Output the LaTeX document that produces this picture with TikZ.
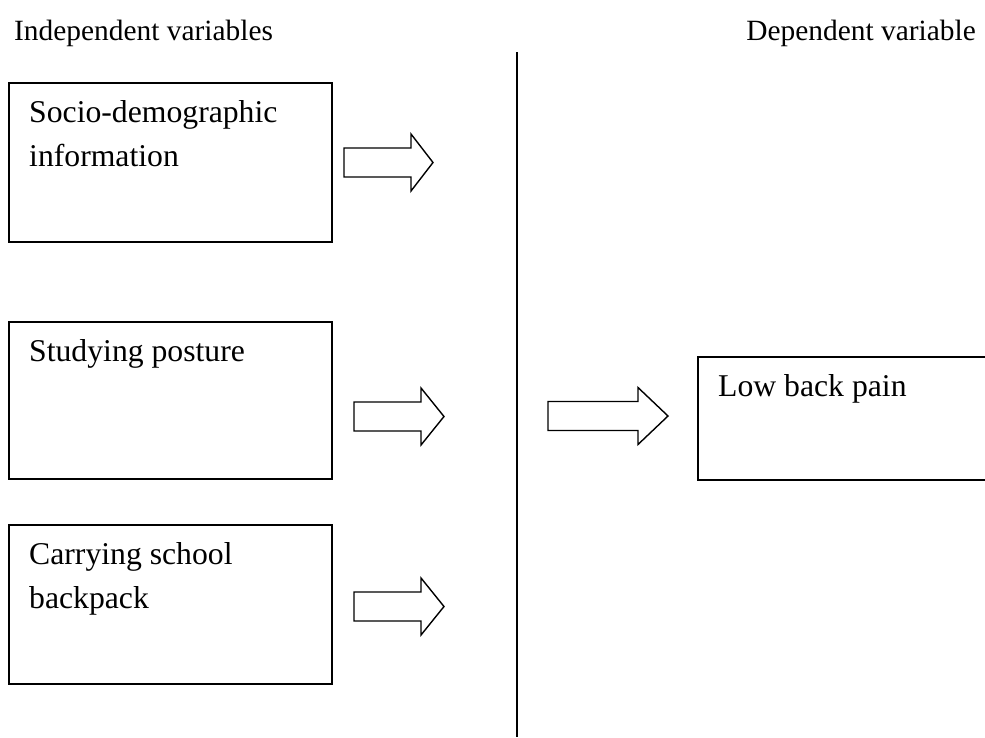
\documentclass[tikz,border=0pt]{standalone}
\usepackage{fontspec}
\setmainfont{Liberation Serif}
\usepackage{tikz}

\tikzset{
  varbox/.style={draw=black, line width=1.6pt, inner sep=0pt, anchor=north west},
  boxtext/.style={inner sep=0pt, anchor=base west, align=left, font=\fontsize{31.7}{44}\selectfont},
  headtext/.style={inner sep=0pt, font=\fontsize{29.4}{44}\selectfont},
  pics/blockarr/.style 2 args={code={
    \draw[line width=1.4pt, line join=miter]
      (0,-14.5) -- (#1,-14.5) -- (#1,-28.5) -- (#1+#2,0)
      -- (#1,28.5) -- (#1,14.5) -- (0,14.5) -- cycle;
  }}
}

\begin{document}
\begin{tikzpicture}[x=1pt, y=-1pt]
  \clip (0,0) rectangle (985,737);

  % headings
  \node[headtext, anchor=base west] (indep) at (14,40) {Independent variables};
  \node[headtext, anchor=base east] (dep) at (976,40) {Dependent variable};

  % boxes
  \node[varbox, minimum width=323pt, minimum height=159pt] (socio) at (8,82) {};
  \node[varbox, minimum width=323pt, minimum height=157pt] (posture) at (8,321) {};
  \node[varbox, minimum width=323pt, minimum height=159pt] (backpack) at (8,524) {};
  \node[varbox, minimum width=320pt, minimum height=123pt] (lbp) at (697,356) {};

  % base is the last line, so two-line texts go one line further down
  \node[boxtext] (sociotxt) at ([xshift=21pt, yshift=-84pt]socio.north west) {Socio-demographic\\information};
  \node[boxtext] (posturetxt) at ([xshift=21pt, yshift=-40pt]posture.north west) {Studying posture};
  \node[boxtext] (backpacktxt) at ([xshift=21pt, yshift=-84pt]backpack.north west) {Carrying school\\backpack};
  \node[boxtext] (lbptxt) at ([xshift=21pt, yshift=-40pt]lbp.north west) {Low back pain};

  % dividing line
  \coordinate (divtop) at (517,52);
  \coordinate (divbot) at (517,737);
  \draw[line width=1.6pt] (divtop) -- (divbot);

  % block arrows
  \pic at (344,162.5) {blockarr={67}{22}};
  \pic at (354,416.5) {blockarr={67}{23}};
  \pic at (354,606.5) {blockarr={67}{23}};
  \pic at (548,416) {blockarr={90}{30}};
\end{tikzpicture}
\end{document}
